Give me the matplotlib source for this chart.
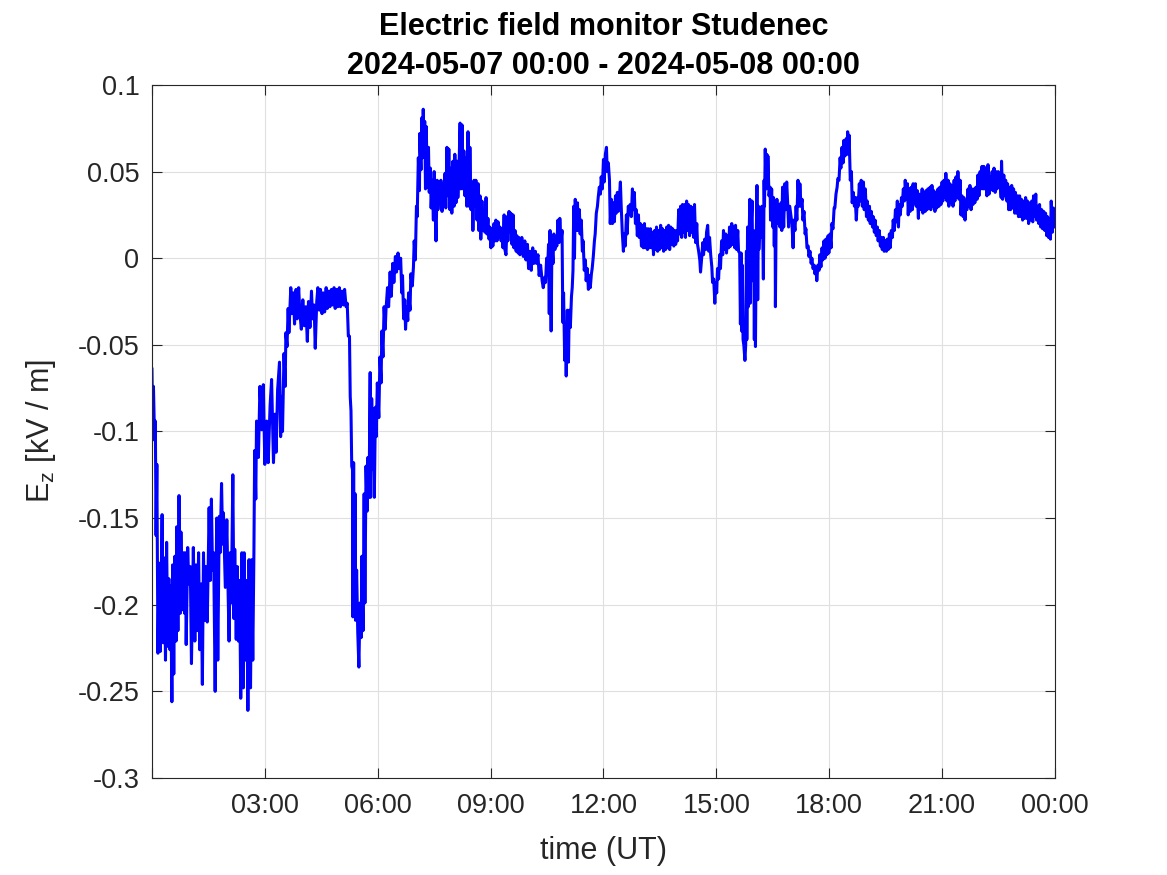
import numpy as np
import matplotlib
matplotlib.use('Agg')
import matplotlib.pyplot as plt

plt.rcParams['font.family'] = ['Liberation Sans', 'DejaVu Sans']
plt.rcParams['mathtext.fontset'] = 'custom'
plt.rcParams['mathtext.rm'] = 'Liberation Sans'
plt.rcParams['axes.unicode_minus'] = False

# Ez samples (time in hours UT, field in kV/m)
# 00:00 - 03:00
t_a = [0.00, 0.02, 0.04, 0.07, 0.09, 0.11, 0.13, 0.16, 0.19, 0.22,
       0.27, 0.30, 0.33, 0.36, 0.39, 0.42, 0.45, 0.48, 0.50, 0.53,
       0.55, 0.58, 0.61, 0.64, 0.66, 0.69, 0.72, 0.75, 0.77, 0.80,
       0.84, 0.87, 0.89, 0.91, 0.95, 0.98, 1.02, 1.05, 1.10, 1.14,
       1.17, 1.20, 1.24, 1.27, 1.31, 1.34, 1.37, 1.40, 1.43, 1.47,
       1.52, 1.55, 1.58, 1.61, 1.64, 1.68, 1.72, 1.75, 1.79, 1.81,
       1.85, 1.88, 1.90, 1.95, 1.99, 2.02, 2.05, 2.08, 2.11, 2.15,
       2.18, 2.20, 2.24, 2.27, 2.30, 2.33, 2.36, 2.39, 2.43, 2.45,
       2.48, 2.52, 2.55, 2.58, 2.62, 2.65, 2.68, 2.71, 2.73, 2.76,
       2.78, 2.83, 2.87, 2.92]
ez_a = [-0.064, -0.099, -0.074, -0.105, -0.094, -0.160, -0.119, -0.228, -0.176, -0.227,
        -0.148, -0.222, -0.173, -0.232, -0.164, -0.224, -0.185, -0.226, -0.189, -0.256,
        -0.177, -0.240, -0.172, -0.221, -0.155, -0.215, -0.137, -0.205, -0.158, -0.203,
        -0.170, -0.205, -0.170, -0.223, -0.167, -0.188, -0.178, -0.234, -0.167, -0.221,
        -0.177, -0.215, -0.170, -0.226, -0.188, -0.246, -0.170, -0.209, -0.178, -0.210,
        -0.144, -0.186, -0.139, -0.180, -0.170, -0.250, -0.150, -0.232, -0.149, -0.170,
        -0.130, -0.165, -0.147, -0.190, -0.151, -0.188, -0.221, -0.170, -0.199, -0.125,
        -0.208, -0.168, -0.220, -0.178, -0.221, -0.186, -0.254, -0.170, -0.248, -0.170,
        -0.232, -0.186, -0.261, -0.174, -0.248, -0.174, -0.232, -0.170, -0.111, -0.139,
        -0.094, -0.115, -0.074, -0.099]

# 03:00 - 06:15
t_b = [2.96, 3.00, 3.05, 3.09, 3.14, 3.18, 3.23, 3.27, 3.30, 3.34,
       3.39, 3.42, 3.46, 3.47, 3.51, 3.54, 3.56, 3.59, 3.62, 3.64,
       3.69, 3.72, 3.76, 3.79, 3.83, 3.86, 3.90, 3.93, 3.97, 4.01,
       4.05, 4.09, 4.13, 4.16, 4.20, 4.24, 4.27, 4.31, 4.34, 4.38,
       4.41, 4.45, 4.48, 4.52, 4.55, 4.59, 4.63, 4.66, 4.70, 4.73,
       4.77, 4.80, 4.84, 4.87, 4.91, 4.94, 4.98, 5.01, 5.05, 5.09,
       5.12, 5.16, 5.19, 5.22, 5.25, 5.27, 5.29, 5.31, 5.33, 5.34,
       5.36, 5.38, 5.40, 5.41, 5.44, 5.47, 5.50, 5.53, 5.56, 5.58,
       5.61, 5.64, 5.66, 5.69, 5.72, 5.74, 5.77, 5.80, 5.81, 5.84,
       5.87, 5.89, 5.91, 5.94, 5.96, 5.99, 6.03, 6.06, 6.09, 6.11,
       6.14, 6.17, 6.20]
ez_b = [-0.073, -0.119, -0.094, -0.118, -0.085, -0.070, -0.118, -0.090, -0.112, -0.076,
        -0.060, -0.103, -0.080, -0.100, -0.055, -0.074, -0.043, -0.051, -0.029, -0.043,
        -0.017, -0.032, -0.020, -0.038, -0.018, -0.035, -0.017, -0.031, -0.041, -0.024,
        -0.039, -0.028, -0.048, -0.025, -0.040, -0.019, -0.035, -0.027, -0.052, -0.025,
        -0.017, -0.030, -0.018, -0.032, -0.020, -0.031, -0.017, -0.029, -0.019, -0.028,
        -0.018, -0.027, -0.017, -0.029, -0.018, -0.028, -0.017, -0.028, -0.019, -0.027,
        -0.018, -0.028, -0.026, -0.045, -0.045, -0.080, -0.088, -0.120, -0.122, -0.207,
        -0.118, -0.198, -0.136, -0.209, -0.180, -0.216, -0.236, -0.199, -0.219, -0.172,
        -0.215, -0.136, -0.199, -0.120, -0.146, -0.115, -0.138, -0.066, -0.138, -0.081,
        -0.122, -0.087, -0.138, -0.086, -0.103, -0.072, -0.092, -0.057, -0.072, -0.042,
        -0.057, -0.028, -0.041]

# 06:15 - 09:50
t_c = [6.22, 6.26, 6.29, 6.33, 6.36, 6.40, 6.43, 6.47, 6.50, 6.54,
       6.57, 6.61, 6.64, 6.66, 6.69, 6.72, 6.74, 6.77, 6.80, 6.82,
       6.86, 6.88, 6.92, 6.95, 6.97, 7.00, 7.03, 7.05, 7.08, 7.11,
       7.12, 7.15, 7.17, 7.19, 7.21, 7.23, 7.25, 7.27, 7.29, 7.32,
       7.35, 7.37, 7.40, 7.42, 7.45, 7.48, 7.50, 7.53, 7.55, 7.58,
       7.60, 7.63, 7.66, 7.68, 7.71, 7.73, 7.76, 7.79, 7.81, 7.84,
       7.87, 7.89, 7.92, 7.95, 7.97, 8.00, 8.03, 8.05, 8.08, 8.11,
       8.13, 8.16, 8.19, 8.21, 8.24, 8.27, 8.29, 8.32, 8.35, 8.37,
       8.40, 8.43, 8.45, 8.48, 8.51, 8.53, 8.56, 8.59, 8.61, 8.64,
       8.67, 8.69, 8.72, 8.74, 8.77, 8.80, 8.82, 8.85, 8.88, 8.90,
       8.93, 8.96, 8.98, 9.01, 9.04, 9.06, 9.09, 9.12, 9.14, 9.17,
       9.20, 9.22, 9.25, 9.28, 9.30, 9.33, 9.36, 9.38, 9.41, 9.44,
       9.46, 9.49, 9.52, 9.54, 9.57, 9.60, 9.62, 9.65, 9.68, 9.70,
       9.73, 9.75, 9.78]
ez_c = [-0.030, -0.017, -0.028, -0.008, -0.022, -0.003, -0.014, 0.001, -0.008, 0.003,
        -0.006, 0.000, -0.020, -0.010, -0.035, -0.024, -0.041, -0.028, -0.036, -0.020,
        -0.030, -0.009, -0.016, -0.005, 0.010, -0.001, 0.030, 0.024, 0.058, 0.039,
        0.072, 0.051, 0.081, 0.058, 0.086, 0.066, 0.079, 0.040, 0.076, 0.041,
        0.064, 0.038, 0.052, 0.029, 0.045, 0.022, 0.050, 0.025, 0.010, 0.045,
        0.028, 0.040, 0.031, 0.045, 0.027, 0.043, 0.030, 0.049, 0.029, 0.064,
        0.036, 0.063, 0.028, 0.052, 0.026, 0.056, 0.030, 0.060, 0.032, 0.056,
        0.035, 0.052, 0.078, 0.040, 0.077, 0.040, 0.062, 0.036, 0.058, 0.030,
        0.073, 0.030, 0.064, 0.028, 0.041, 0.016, 0.045, 0.030, 0.045, 0.022,
        0.043, 0.016, 0.036, 0.011, 0.033, 0.016, 0.027, 0.015, 0.035, 0.014,
        0.023, 0.011, 0.018, 0.006, 0.017, 0.007, 0.020, 0.010, 0.022, 0.010,
        0.021, 0.012, 0.018, 0.010, 0.017, 0.006, 0.025, 0.005, 0.002, 0.024,
        0.010, 0.027, 0.015, 0.026, 0.008, 0.025, 0.006, 0.016, 0.004, 0.013,
        0.003, 0.012, 0.002]

# 09:50 - 13:15
t_d = [9.80, 9.83, 9.87, 9.91, 9.94, 9.98, 10.01, 10.05, 10.08, 10.12,
       10.15, 10.19, 10.22, 10.26, 10.29, 10.33, 10.37, 10.40, 10.44, 10.46,
       10.49, 10.52, 10.54, 10.56, 10.58, 10.61, 10.63, 10.66, 10.68, 10.71,
       10.74, 10.76, 10.79, 10.82, 10.84, 10.87, 10.90, 10.92, 10.94, 10.97,
       10.99, 11.01, 11.04, 11.07, 11.09, 11.12, 11.15, 11.17, 11.19, 11.21,
       11.23, 11.25, 11.28, 11.31, 11.33, 11.36, 11.38, 11.41, 11.44, 11.46,
       11.49, 11.52, 11.54, 11.57, 11.60, 11.62, 11.65, 11.68, 11.70, 11.73,
       11.76, 11.78, 11.81, 11.84, 11.86, 11.89, 11.92, 11.94, 11.97, 12.00,
       12.02, 12.05, 12.08, 12.10, 12.13, 12.16, 12.18, 12.21, 12.24, 12.26,
       12.29, 12.32, 12.34, 12.37, 12.39, 12.42, 12.45, 12.47, 12.50, 12.53,
       12.55, 12.58, 12.61, 12.63, 12.66, 12.69, 12.71, 12.74, 12.77, 12.79,
       12.82, 12.85, 12.87, 12.90, 12.93, 12.95, 12.98, 13.01, 13.03, 13.06,
       13.09, 13.11, 13.14, 13.17, 13.19, 13.22]
ez_d = [0.003, 0.012, 0.001, 0.010, -0.001, 0.008, -0.006, 0.004, -0.007, 0.006,
        -0.003, 0.004, -0.003, 0.002, -0.010, -0.004, -0.013, -0.017, -0.011, -0.014,
        0.000, -0.004, 0.008, -0.032, 0.016, -0.042, 0.008, -0.003, 0.014, 0.005,
        0.012, 0.007, 0.022, 0.009, 0.023, 0.010, 0.016, -0.037, -0.020, -0.059,
        -0.042, -0.068, -0.030, -0.060, -0.030, -0.040, -0.022, -0.017, -0.007, 0.030,
        0.000, 0.034, 0.016, 0.032, 0.016, 0.028, 0.014, 0.022, 0.004, 0.010,
        -0.007, -0.001, -0.013, -0.006, -0.018, -0.010, -0.017, -0.009, -0.006, 0.001,
        0.010, 0.014, 0.026, 0.030, 0.035, 0.041, 0.037, 0.047, 0.040, 0.057,
        0.044, 0.060, 0.064, 0.050, 0.055, 0.045, 0.020, 0.034, 0.020, 0.032,
        0.021, 0.036, 0.026, 0.038, 0.027, 0.034, 0.044, 0.031, 0.015, 0.004,
        0.014, 0.007, 0.025, 0.014, 0.030, 0.026, 0.031, 0.024, 0.040, 0.028,
        0.038, 0.020, 0.028, 0.013, 0.025, 0.012, 0.020, 0.007, 0.019, 0.006,
        0.020, 0.006, 0.017, 0.005, 0.017, 0.006]

# 13:15 - 17:00
t_e = [13.25, 13.28, 13.31, 13.33, 13.36, 13.39, 13.41, 13.44, 13.47, 13.49,
       13.52, 13.55, 13.57, 13.60, 13.63, 13.65, 13.68, 13.71, 13.73, 13.76,
       13.79, 13.81, 13.84, 13.87, 13.89, 13.92, 13.95, 13.97, 14.00, 14.02,
       14.05, 14.08, 14.10, 14.13, 14.16, 14.18, 14.21, 14.24, 14.26, 14.29,
       14.32, 14.34, 14.37, 14.40, 14.42, 14.45, 14.48, 14.50, 14.53, 14.56,
       14.58, 14.61, 14.64, 14.66, 14.69, 14.72, 14.74, 14.77, 14.80, 14.82,
       14.85, 14.88, 14.90, 14.93, 14.96, 14.98, 15.01, 15.03, 15.06, 15.09,
       15.11, 15.14, 15.17, 15.19, 15.22, 15.25, 15.27, 15.30, 15.33, 15.35,
       15.38, 15.41, 15.43, 15.46, 15.49, 15.51, 15.54, 15.57, 15.59, 15.62,
       15.64, 15.66, 15.67, 15.69, 15.71, 15.73, 15.76, 15.78, 15.80, 15.81,
       15.83, 15.85, 15.87, 15.89, 15.90, 15.92, 15.95, 15.97, 15.99, 16.01,
       16.03, 16.04, 16.06, 16.08, 16.10, 16.12, 16.13, 16.16, 16.19, 16.21,
       16.23, 16.25, 16.27, 16.28, 16.30, 16.32, 16.34, 16.36, 16.37, 16.40,
       16.43, 16.44, 16.47, 16.50, 16.52, 16.54, 16.56, 16.57, 16.59, 16.61,
       16.64, 16.67, 16.69, 16.72, 16.74, 16.76, 16.79, 16.82, 16.84, 16.87,
       16.90, 16.92, 16.95]
ez_e = [0.017, 0.006, 0.015, 0.002, 0.016, 0.005, 0.018, 0.004, 0.016, 0.005,
        0.019, 0.006, 0.017, 0.004, 0.016, 0.005, 0.018, 0.006, 0.019, 0.005,
        0.018, 0.008, 0.017, 0.007, 0.016, 0.008, 0.016, 0.010, 0.028, 0.014,
        0.030, 0.012, 0.031, 0.015, 0.031, 0.012, 0.033, 0.016, 0.031, 0.013,
        0.030, 0.015, 0.029, 0.012, 0.031, 0.009, 0.020, 0.008, 0.004, -0.001,
        -0.008, 0.000, 0.009, 0.002, 0.011, 0.005, 0.015, 0.019, 0.004, 0.012,
        0.002, -0.005, -0.014, -0.012, -0.026, -0.014, -0.020, -0.006, -0.012, 0.002,
        -0.006, 0.010, 0.002, 0.016, 0.005, 0.014, 0.003, 0.013, 0.006, 0.018,
        0.007, 0.020, 0.008, 0.018, 0.006, 0.019, 0.005, 0.016, 0.004, 0.003,
        -0.038, 0.003, -0.042, -0.004, -0.047, -0.050, -0.059, -0.050, 0.004, -0.047,
        0.018, -0.028, 0.010, 0.034, -0.026, 0.014, 0.033, -0.013, 0.016, -0.047,
        0.012, -0.051, 0.010, 0.042, -0.024, 0.030, 0.005, 0.026, 0.012, 0.030,
        0.020, -0.012, 0.045, 0.030, 0.063, 0.040, 0.060, 0.045, 0.059, 0.036,
        0.041, 0.022, 0.040, 0.018, 0.035, 0.007, 0.033, -0.028, 0.026, 0.034,
        0.020, 0.031, 0.018, 0.032, 0.016, 0.041, 0.018, 0.043, 0.028, 0.044,
        0.030, 0.018, 0.030]

# 17:00 - 20:25
t_f = [16.98, 17.01, 17.04, 17.06, 17.09, 17.12, 17.14, 17.17, 17.20, 17.22,
       17.25, 17.28, 17.30, 17.33, 17.36, 17.38, 17.41, 17.44, 17.46, 17.49,
       17.52, 17.54, 17.57, 17.60, 17.62, 17.65, 17.67, 17.70, 17.73, 17.75,
       17.78, 17.81, 17.83, 17.86, 17.89, 17.91, 17.94, 17.97, 17.99, 18.02,
       18.05, 18.07, 18.10, 18.13, 18.15, 18.18, 18.21, 18.23, 18.26, 18.29,
       18.31, 18.34, 18.37, 18.39, 18.42, 18.45, 18.47, 18.49, 18.52, 18.53,
       18.56, 18.59, 18.61, 18.64, 18.67, 18.69, 18.72, 18.75, 18.77, 18.80,
       18.83, 18.85, 18.88, 18.91, 18.93, 18.96, 18.99, 19.01, 19.04, 19.07,
       19.09, 19.12, 19.15, 19.17, 19.20, 19.22, 19.25, 19.28, 19.30, 19.33,
       19.36, 19.38, 19.41, 19.44, 19.46, 19.49, 19.52, 19.54, 19.57, 19.60,
       19.62, 19.65, 19.68, 19.70, 19.73, 19.76, 19.78, 19.81, 19.84, 19.86,
       19.89, 19.92, 19.94, 19.97, 20.00, 20.02, 20.05, 20.08, 20.10, 20.13,
       20.15, 20.18, 20.21, 20.23, 20.26, 20.29, 20.31, 20.34, 20.37, 20.39]
ez_f = [0.025, 0.020, 0.006, 0.022, 0.016, 0.030, 0.022, 0.045, 0.030, 0.043,
        0.030, 0.034, 0.022, 0.027, 0.014, 0.017, 0.006, 0.007, 0.001, 0.004,
        -0.003, 0.000, -0.006, -0.004, -0.009, -0.006, -0.013, -0.004, -0.007, 0.002,
        -0.005, 0.006, -0.001, 0.010, 0.000, 0.011, 0.002, 0.013, 0.003, 0.014,
        0.006, 0.020, 0.017, 0.029, 0.029, 0.037, 0.041, 0.046, 0.045, 0.058,
        0.052, 0.064, 0.055, 0.068, 0.059, 0.069, 0.060, 0.073, 0.060, 0.071,
        0.045, 0.050, 0.032, 0.038, 0.030, 0.035, 0.022, 0.035, 0.030, 0.043,
        0.033, 0.045, 0.030, 0.044, 0.028, 0.040, 0.024, 0.033, 0.022, 0.030,
        0.020, 0.027, 0.018, 0.024, 0.015, 0.022, 0.013, 0.018, 0.010, 0.016,
        0.007, 0.012, 0.005, 0.012, 0.004, 0.010, 0.004, 0.011, 0.005, 0.014,
        0.006, 0.016, 0.012, 0.022, 0.016, 0.028, 0.021, 0.033, 0.018, 0.031,
        0.025, 0.035, 0.030, 0.040, 0.033, 0.045, 0.034, 0.043, 0.025, 0.040,
        0.027, 0.041, 0.028, 0.043, 0.032, 0.043, 0.030, 0.039, 0.023, 0.037]

# 20:25 - 24:00
t_g = [20.44, 20.47, 20.49, 20.52, 20.55, 20.57, 20.60, 20.62, 20.65, 20.68,
       20.70, 20.73, 20.76, 20.78, 20.81, 20.84, 20.86, 20.89, 20.92, 20.94,
       20.97, 21.00, 21.02, 21.05, 21.08, 21.10, 21.13, 21.16, 21.18, 21.21,
       21.24, 21.26, 21.29, 21.32, 21.34, 21.37, 21.40, 21.42, 21.45, 21.48,
       21.50, 21.53, 21.56, 21.58, 21.61, 21.63, 21.66, 21.69, 21.71, 21.74,
       21.77, 21.79, 21.82, 21.85, 21.87, 21.90, 21.93, 21.95, 21.98, 22.01,
       22.03, 22.06, 22.09, 22.11, 22.14, 22.17, 22.19, 22.22, 22.25, 22.27,
       22.30, 22.33, 22.35, 22.38, 22.41, 22.43, 22.46, 22.49, 22.51, 22.54,
       22.57, 22.58, 22.61, 22.64, 22.66, 22.69, 22.72, 22.74, 22.77, 22.80,
       22.82, 22.85, 22.87, 22.90, 22.93, 22.95, 22.98, 23.01, 23.03, 23.06,
       23.09, 23.11, 23.14, 23.17, 23.19, 23.22, 23.25, 23.27, 23.30, 23.33,
       23.35, 23.38, 23.41, 23.43, 23.46, 23.49, 23.51, 23.54, 23.57, 23.59,
       23.62, 23.65, 23.67, 23.70, 23.73, 23.75, 23.78, 23.80, 23.83, 23.86,
       23.88, 23.90, 23.93, 23.96, 23.98, 24.00]
ez_g = [0.028, 0.040, 0.026, 0.038, 0.027, 0.039, 0.028, 0.040, 0.029, 0.041,
        0.028, 0.042, 0.030, 0.039, 0.027, 0.038, 0.029, 0.040, 0.030, 0.041,
        0.031, 0.044, 0.033, 0.045, 0.035, 0.049, 0.033, 0.045, 0.030, 0.043,
        0.032, 0.042, 0.030, 0.045, 0.033, 0.047, 0.035, 0.050, 0.034, 0.045,
        0.025, 0.036, 0.024, 0.035, 0.022, 0.031, 0.028, 0.040, 0.030, 0.042,
        0.028, 0.040, 0.031, 0.040, 0.032, 0.041, 0.034, 0.048, 0.036, 0.050,
        0.040, 0.053, 0.040, 0.053, 0.040, 0.052, 0.036, 0.054, 0.037, 0.047,
        0.040, 0.050, 0.039, 0.052, 0.038, 0.050, 0.040, 0.050, 0.041, 0.047,
        0.035, 0.056, 0.034, 0.048, 0.036, 0.045, 0.033, 0.043, 0.028, 0.041,
        0.028, 0.042, 0.029, 0.040, 0.026, 0.038, 0.026, 0.036, 0.024, 0.036,
        0.024, 0.034, 0.022, 0.033, 0.023, 0.035, 0.023, 0.033, 0.020, 0.032,
        0.022, 0.033, 0.021, 0.036, 0.024, 0.037, 0.022, 0.030, 0.020, 0.031,
        0.018, 0.028, 0.017, 0.027, 0.016, 0.026, 0.013, 0.024, 0.012, 0.023,
        0.011, 0.033, 0.015, 0.029, 0.018, 0.026]

x_ticks = [0, 3, 6, 9, 12, 15, 18, 21, 24]
x_tick_labels = ['', '03:00', '06:00', '09:00', '12:00', '15:00', '18:00', '21:00', '00:00']
y_ticks = [-0.3, -0.25, -0.2, -0.15, -0.1, -0.05, 0, 0.05, 0.1]
y_tick_labels = ['-0.3', '-0.25', '-0.2', '-0.15', '-0.1', '-0.05', '0', '0.05', '0.1']

hours = np.concatenate([t_a, t_b, t_c, t_d, t_e, t_f, t_g])
ez = np.concatenate([ez_a, ez_b, ez_c, ez_d, ez_e, ez_f, ez_g])

fig = plt.figure(figsize=(11.67, 8.75), dpi=100)
ax = fig.add_axes([0.1302, 0.1109, 0.7738, 0.792])

ax.plot(hours, ez, color='#0000ff', lw=2.2)

ax.set_xlim(0, 24)
ax.set_ylim(-0.3, 0.1)
ax.set_xticks(x_ticks)
ax.set_xticklabels(x_tick_labels)
ax.set_yticks(y_ticks)
ax.set_yticklabels(y_tick_labels)

ax.grid(True, color='#dfdfdf', lw=0.8)
ax.tick_params(direction='in', length=7, width=0.8, top=True, right=True,
               labelsize=19.5, colors='#262626')
ax.tick_params(axis='x', pad=11)
ax.tick_params(axis='y', pad=9)
for sp in ax.spines.values():
    sp.set_color('#262626')
    sp.set_linewidth(0.8)

ax.set_xlabel('time (UT)', fontsize=22, color='#262626', labelpad=12)
ax.set_ylabel(r'E$_\mathregular{z}$ [kV / m]', fontsize=22, color='#262626', labelpad=14)
ax.set_title('Electric field monitor Studenec\n2024-05-07 00:00 - 2024-05-08 00:00',
             fontsize=22, fontweight='bold', pad=8, linespacing=1.4)

fig.savefig('out.png', dpi=100)
